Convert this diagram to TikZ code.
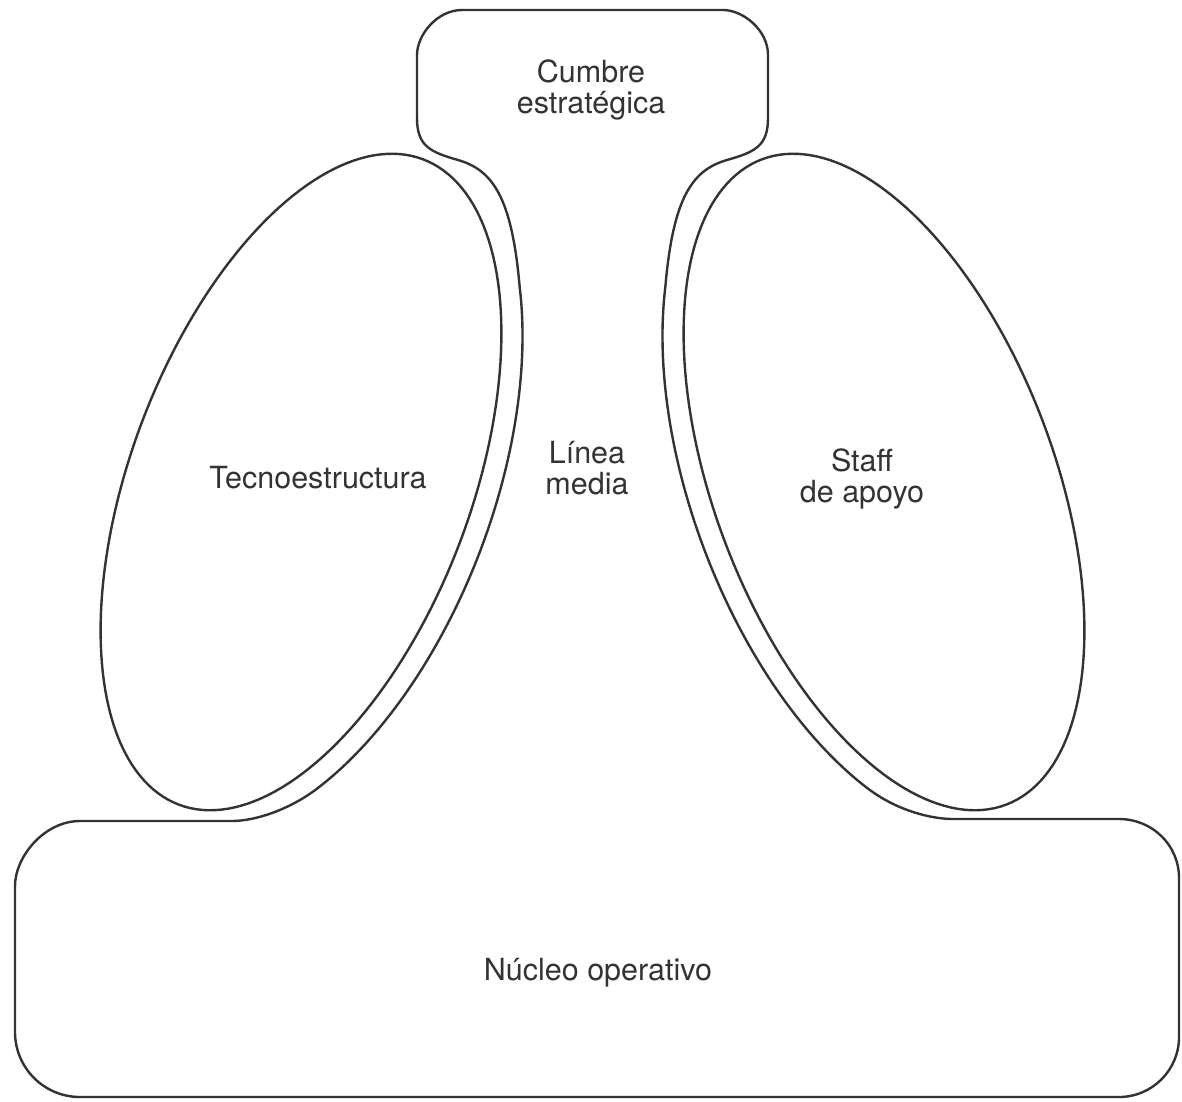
\documentclass[tikz,border=0pt]{standalone}
\usepackage{fontspec}
\setmainfont{TeX Gyre Heros}
\definecolor{ink}{HTML}{333333}
\begin{document}
\begin{tikzpicture}[x=1pt,y=-1pt,
  outline/.style={draw=ink,line width=2.4pt,line join=round},
  label/.style={text=ink,font=\fontsize{30.5}{31}\selectfont,align=center,inner sep=0pt}]
\useasboundingbox (0,0) rectangle (1182,1101);
% outer outline: nucleo + linea media + cumbre
\draw[outline] (232,821) -- (80,821)
  .. controls (44.1,821) and (15,856.9) .. (15,886) -- (15,1032)
  .. controls (15,1067.9) and (44.1,1097) .. (80,1097) -- (1119,1097)
  .. controls (1152.1,1097) and (1179,1070.1) .. (1179,1037) -- (1179,878)
  .. controls (1179,844.9) and (1152.1,819) .. (1119,819) -- (953,819)
  .. controls (930,819) and (895.8,809.8) .. (868,788.6)
  -- plot[domain=140:45,samples=60,variable=\t] ({884-129.7*cos(\t)-179.6*sin(\t)},{482-343.3*cos(\t)+67.9*sin(\t)})
  .. controls (673,198) and (692,170) .. (727,160)
  .. controls (755,152) and (768,146) .. (768,118) -- (768,55)
  .. controls (768,30.1) and (743.1,10) .. (723,10) -- (462,10)
  .. controls (437.1,10) and (417,34.9) .. (417,55) -- (417,118)
  .. controls (417,146) and (430,152) .. (458,160)
  .. controls (493,170) and (512,198) .. (519.7,287.3)
  -- plot[domain=45:140,samples=60,variable=\t] ({301+129.7*cos(\t)+179.6*sin(\t)},{482-343.3*cos(\t)+67.9*sin(\t)})
  .. controls (289.2,809.8) and (255,821) .. (232,821) -- cycle;
% tecnoestructura ellipse
\draw[outline] plot[domain=0:360,samples=181,variable=\t] ({301+122.0*cos(\t)+159.0*sin(\t)},{482-322.7*cos(\t)+60.1*sin(\t)}) -- cycle;
% staff de apoyo ellipse
\draw[outline] plot[domain=0:360,samples=181,variable=\t] ({884-122.0*cos(\t)-159.0*sin(\t)},{482-322.7*cos(\t)+60.1*sin(\t)}) -- cycle;
% labels
\node[label] (cumbre) at (591,90) {Cumbre\\estratégica};
\node[label] (linea) at (587,468) {Línea\\media};
\node[label] (tecno) at (318,478) {Tecnoestructura};
\node[label] (staff) at (862,479) {Staff\\de apoyo};
\node[label] (nucleo) at (598,973) {Núcleo operativo};
\end{tikzpicture}
\end{document}
